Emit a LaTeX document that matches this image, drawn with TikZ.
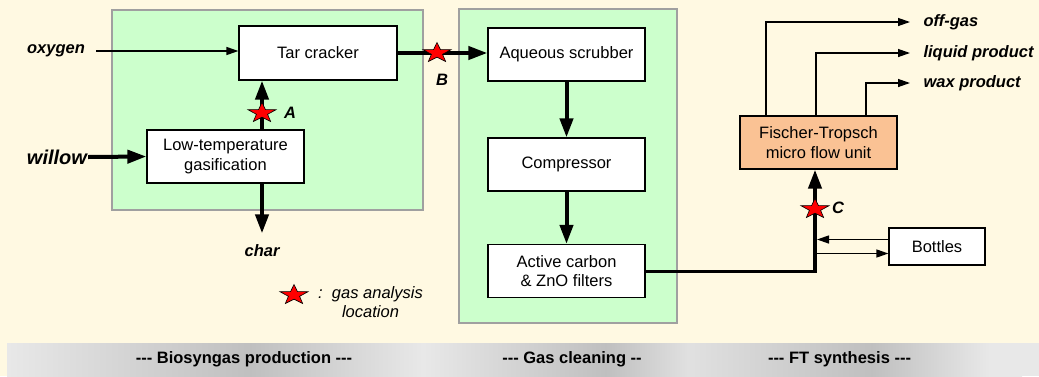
\documentclass[tikz,border=0pt]{standalone}
\usepackage{fontspec}
\setmainfont{Liberation Sans}
\usetikzlibrary{arrows.meta,shapes.geometric,positioning}
\definecolor{cream}{RGB}{255,249,226}
\definecolor{panelgreen}{RGB}{204,255,204}
\definecolor{panelline}{RGB}{160,160,160}
\definecolor{ftorange}{RGB}{250,194,148}
\pgfdeclarehorizontalshading{stagebar}{100bp}{color(0bp)=(gray!18); color(25bp)=(gray!18); color(37bp)=(gray!50); color(45.5bp)=(gray!18); color(54.5bp)=(gray!50); color(58.6bp)=(gray!24); color(67.6bp)=(gray!50); color(73.4bp)=(gray!18); color(75bp)=(gray!18); color(100bp)=(gray!18)}
\begin{document}
\begin{tikzpicture}[x=1pt, y=-1pt,
		unit/.style={draw, fill=white, line width=1.2pt, minimum width=157pt, minimum height=53pt, align=center, inner sep=2pt, font=\fontsize{16.5}{19.5}\selectfont},
		stream/.style={font=\fontsize{16.5}{19}\selectfont\bfseries\itshape},
		feed/.style={line width=1.3pt, -{Triangle[length=12pt,width=8pt]}},
		mainfeed/.style={line width=4pt, -{Triangle[length=19pt,width=13pt]}},
		spot/.style={star, star points=5, star point ratio=2.5, minimum size=21pt, inner sep=0pt, fill=red, draw, line width=0.6pt, xscale=1.4, transform shape},
		stage/.style={font=\fontsize{16.5}{19}\selectfont\bfseries}]
	\useasboundingbox (0,0) rectangle (1039,376);
	\fill[cream] (0,0) rectangle (1039,376);
	\shade[shading=stagebar] (7,343) rectangle (1022,376);
	\fill[gray!18] (1022,343) rectangle (1039,376);
	\draw[panelline, fill=panelgreen, line width=1.2pt] (112,10) rectangle (423,210);
	\draw[panelline, fill=panelgreen, line width=1.2pt] (459,9) rectangle (677,323);

	\node[unit, minimum width=158pt, minimum height=54pt] (tar) at (318,53) {Tar cracker};
	\node[unit] (gasif) at (225.5,156.5) {Low-temperature\\gasification};
	\node[unit] (scrubber) at (566.5,54.5) {Aqueous scrubber};
	\node[unit] (compressor) at (566.5,164.5) {Compressor};
	\node[unit] (filters) at (566.5,271) {Active carbon\\\& ZnO filters};
	\node[unit, fill=ftorange] (ft) at (818.5,142.5) {Fischer-Tropsch\\micro flow unit};
	\node[unit, minimum width=96pt, minimum height=37pt] (bottles) at (937,246.5) {Bottles};

	\node[stream] (oxygen) at (56,51) {oxygen};
	\node[stream, font=\fontsize{20}{24}\selectfont\bfseries\itshape, inner sep=1pt] (willow) at (57,157) {willow};
	\node[stream] (char) at (262,251) {char};
	\node[stream] (labA) at (290,113) {A};
	\node[stream] (labB) at (442,80) {B};
	\node[stream] (labC) at (838,208) {C};

	\coordinate (spotA) at (262,113);
	\coordinate (spotB) at (437,53);
	\coordinate (spotC) at (815,209);
	\coordinate (junction) at (815,271);

	\draw[feed, shorten <=8pt] (oxygen.east) -- (oxygen.east -| tar.west);
	\draw[mainfeed] (willow.east) -- (gasif.west);
	\draw[mainfeed] (gasif.north -| spotA) -- (tar.south -| spotA);
	\draw[mainfeed, shorten >=8pt] (gasif.south -| char) -- (char.north);
	\draw[mainfeed] (tar.east) -- (tar.east -| scrubber.west);
	\draw[mainfeed] (scrubber) -- (compressor);
	\draw[mainfeed] (compressor) -- (filters);
	\draw[line width=3pt] (filters.east) -- (filters.east -| junction);
	\draw[mainfeed] ([yshift=-1.5pt]junction) -- (junction |- ft.south);
	\draw[feed, shorten >=2pt] ([yshift=7pt]bottles.west) -- ([yshift=7pt]bottles.west -| junction);
	\draw[feed, shorten <=2pt] ([yshift=-7pt]bottles.west -| junction) -- ([yshift=-7pt]bottles.west);

	\foreach \dx/\yo/\name/\txt in {-52.5/22/offgas/off-gas, -2.5/53/liquid/liquid product, 47.5/83/wax/wax product}{
		\node[stream, anchor=west] (\name) at (920,\yo) {\txt};
		\draw[feed, shorten >=10pt] ([xshift=\dx pt]ft.north) |- (\name.west);
	}

	\node[spot] (starA) at (spotA) {};
	\node[spot] (starB) at (spotB) {};
	\node[spot] (starC) at (spotC) {};
	\node[spot] (legendspot) at (294,295) {};
	\node[font=\fontsize{16.5}{19}\selectfont\itshape, align=center] (legend) at (370.5,302) {:\ \ gas analysis\\location};

	\node[stage] (bio) at (244,359.5) {-{}-{}- Biosyngas production -{}-{}-};
	\node[stage] (clean) at (572,359.5) {-{}-{}- Gas cleaning -{}-};
	\node[stage] (fts) at (839.5,359.5) {-{}-{}- FT synthesis -{}-{}-};
\end{tikzpicture}
\end{document}
